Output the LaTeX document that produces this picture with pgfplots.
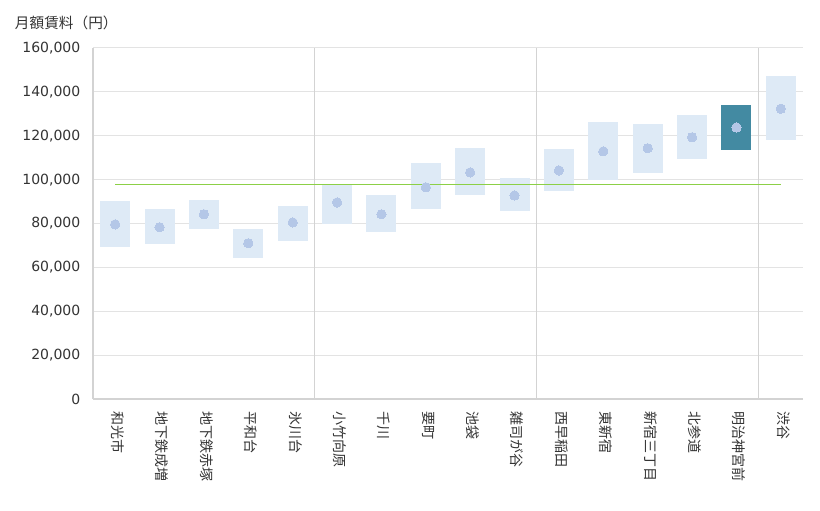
\documentclass[border=0pt]{standalone}
\usepackage{fontspec}
\setmainfont{DejaVu Sans}
\newfontfamily\jp{Noto Sans CJK JP}
\usepackage{pgfplots}
\usepackage{pgfplotstable}
\pgfplotsset{compat=1.18}
\definecolor{barlight}{HTML}{DEEAF6}
\definecolor{barhi}{HTML}{438AA2}
\definecolor{dotc}{HTML}{B4C7E7}
\definecolor{avg}{HTML}{8CD046}
\definecolor{gridc}{HTML}{E3E3E3}
\definecolor{sepc}{HTML}{D3D3D3}
\definecolor{txt}{HTML}{333333}

% x: category index, low / median / high monthly rent (yen)
\pgfplotstableread{
x low mid high
0 69400 79600 90200
1 70800 78300 86600
2 77600 84200 90700
3 64400 71000 77500
4 72200 80500 88000
5 79600 89600 97500
6 76300 84200 93000
7 86400 96500 107400
8 93100 103300 114400
9 85800 92800 100700
10 94900 104200 113900
11 100000 112900 126300
12 103200 114300 125300
13 109500 119300 129400
14 113600 123800 134000
15 118200 132300 147200
}\data

\begin{document}
\begin{tikzpicture}
\useasboundingbox (0pt,0pt) rectangle (615pt,382.5pt);
\node[anchor=west, font=\jp\fontsize{11}{13}\selectfont, text=txt, inner sep=0pt] at (11pt,365.5pt) {月額賃料（円）};
\begin{axis}[
  at={(69.75pt,83.25pt)}, anchor=south west,
  scale only axis, width=532.5pt, height=263.25pt,
  xmin=-0.5, xmax=15.5, ymin=0, ymax=160000,
  ytick={0,20000,...,160000},
  xtick={0,...,15},
  xticklabels={和光市,地下鉄成増,地下鉄赤塚,平和台,氷川台,小竹向原,千川,要町,池袋,雑司が谷,西早稲田,東新宿,新宿三丁目,北参道,明治神宮前,渋谷},
  xticklabel style={font=\jp\fontsize{10.5}{12}\selectfont, text=txt, rotate=-90, anchor=west, xshift=6pt, yshift=2pt},
  yticklabel style={font=\fontsize{10.5}{12}\selectfont, text=txt, xshift=-6pt,
    /pgf/number format/fixed, /pgf/number format/precision=0,
    /pgf/number format/1000 sep={,}, /pgf/number format/assume math mode=true},
  scaled y ticks=false,
  major tick length=0pt,
  ymajorgrids, major grid style={draw=gridc, line width=0.75pt},
  extra x ticks={4.5,9.5,14.5}, extra x tick labels={},
  extra x tick style={xmajorgrids=true, ymajorgrids=false, major grid style={draw=sepc, line width=0.9pt}},
  axis x line*=bottom, axis y line*=left,
  axis line style={draw=sepc, line width=0.9pt},
  clip=false,
]
% range bars
\addplot[draw=none, mark=none, forget plot,
  error bars/.cd, y dir=both, y explicit, error mark=none,
  error bar style={draw=barlight, line width=22.5pt, line cap=butt}]
  table[x=x, y expr={(\thisrow{low}+\thisrow{high})/2}, y error expr={(\thisrow{high}-\thisrow{low})/2}] {\data};
% highlighted bar (明治神宮前)
\addplot[draw=none, mark=none, forget plot, restrict x to domain=14:14,
  error bars/.cd, y dir=both, y explicit, error mark=none,
  error bar style={draw=barhi, line width=22.5pt, line cap=butt}]
  table[x=x, y expr={(\thisrow{low}+\thisrow{high})/2}, y error expr={(\thisrow{high}-\thisrow{low})/2}] {\data};
% average line
\addplot[draw=avg, line width=1pt, mark=none] coordinates {(0,97900) (15,97900)};
% medians
\addplot[color=dotc, only marks, mark=*, mark size=3.5pt, mark options={fill=dotc, draw=dotc, line width=0pt}] table[x=x, y=mid] {\data};
\end{axis}
\end{tikzpicture}
\end{document}
